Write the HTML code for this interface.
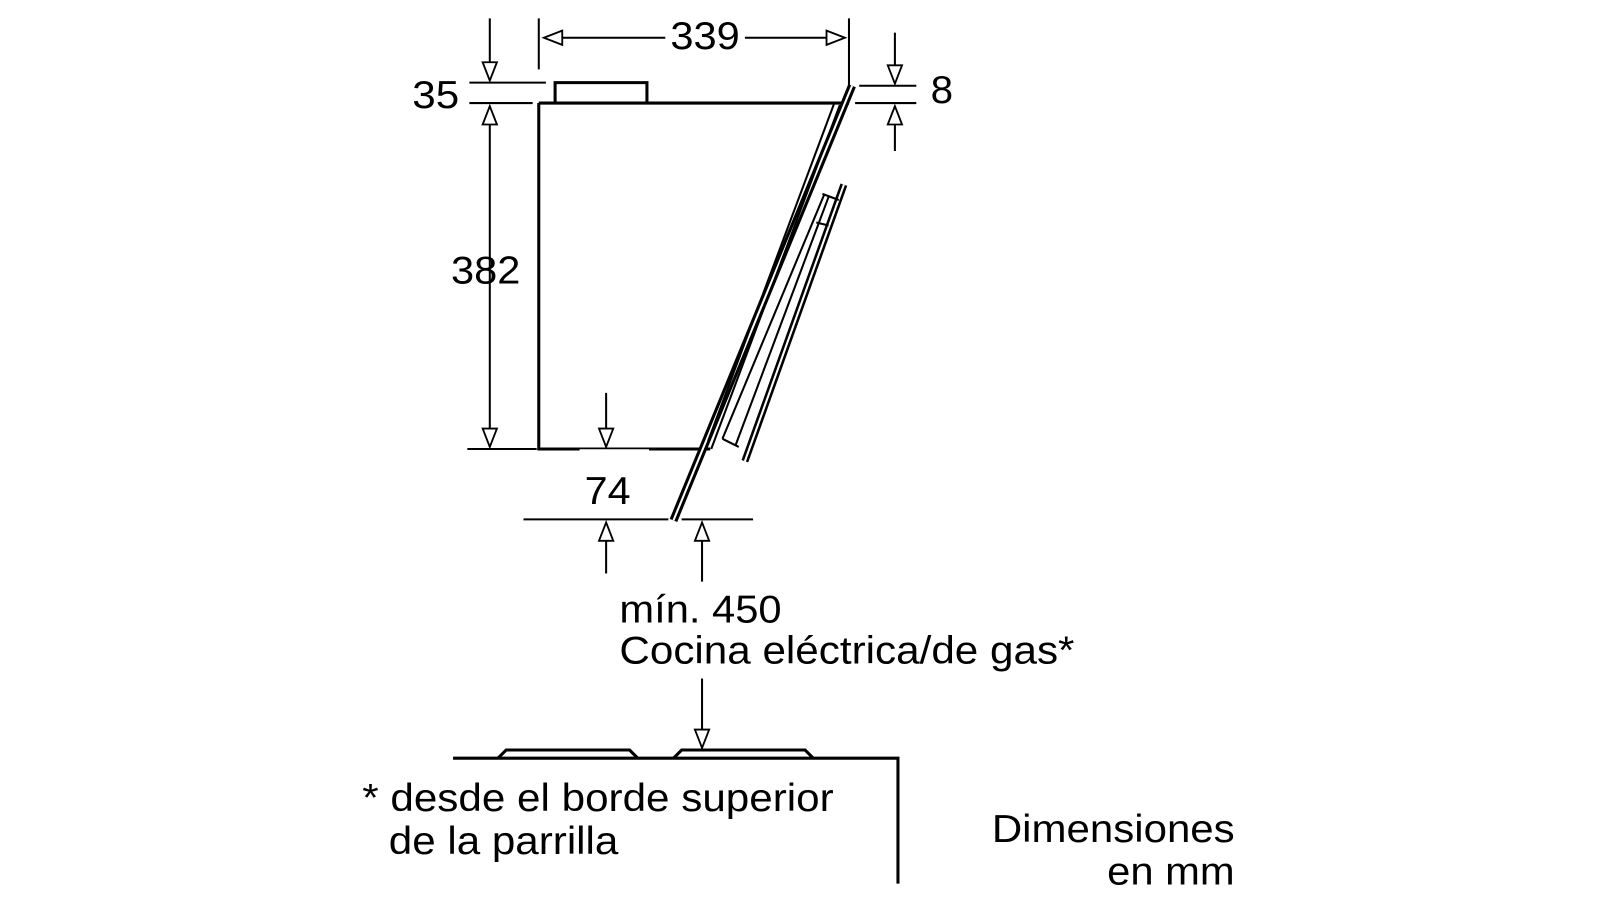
<!DOCTYPE html>
<html><head><meta charset="utf-8"><style>html,body{margin:0;padding:0;background:#fff;}svg{display:block}</style></head>
<body>
<svg width="1600" height="900" viewBox="0 0 1568 882" preserveAspectRatio="none" xmlns="http://www.w3.org/2000/svg" font-family="'Liberation Sans', sans-serif" fill="#000">
<g stroke="#000" stroke-width="2" fill="none">
<path d="M528 101 L528 440 L696 440" stroke-width="3"/>
<path d="M528 101 L832 101" stroke-width="3"/>
<path d="M544 101 L544 81 L634 81 L634 101" stroke-width="3"/>
<line x1="568" y1="441" x2="636" y2="441" stroke="#fff" stroke-width="1.5"/>
<path d="M835 84 L660 510" stroke-width="8"/>
<path d="M835 84 L660 510" stroke="#fff" stroke-width="2"/>
<path d="M823 103 L697 440"/>
<path d="M818 100 L694 432"/>
<path d="M827 181 L730 452" stroke-width="7"/>
<path d="M827 181 L730 452" stroke="#fff" stroke-width="2"/>
<path d="M812 193 L721 436"/>
<path d="M808 190 L708 430"/>
<path d="M806 190 L822 196 M800 218 L812 221 M708 430 L724 438"/>
<line x1="528" y1="18" x2="528" y2="68"/>
<line x1="832" y1="18" x2="832" y2="84"/>
<line x1="545" y1="37" x2="652" y2="37"/>
<line x1="730" y1="37" x2="815" y2="37"/>
<line x1="460" y1="81" x2="535" y2="81"/>
<line x1="460" y1="101" x2="522" y2="101"/>
<line x1="480" y1="18" x2="480" y2="64"/>
<line x1="480" y1="118" x2="480" y2="438"/>
<line x1="458" y1="440" x2="526" y2="440"/>
<line x1="842" y1="84" x2="898" y2="84"/>
<line x1="838" y1="101" x2="898" y2="101"/>
<line x1="877" y1="32" x2="877" y2="66"/>
<line x1="877" y1="118" x2="877" y2="148"/>
<line x1="594" y1="385" x2="594" y2="424"/>
<line x1="513" y1="509" x2="655" y2="509"/>
<line x1="668" y1="509" x2="738" y2="509"/>
<line x1="594" y1="526" x2="594" y2="562"/>
<line x1="688" y1="526" x2="688" y2="570"/>
<line x1="688" y1="665" x2="688" y2="718"/>
<path d="M444 743 L880 743 L880 866" stroke-width="3"/>
<path d="M488 743 L496 735 L617 735 L625 743" stroke-width="3"/>
<path d="M660 743 L668 735 L789 735 L797 743" stroke-width="3"/>
</g>
<g fill="#fff" stroke="#000" stroke-width="1.8">
<path d="M533 37 L551 30 L551 44 Z"/>
<path d="M828 37 L810 30 L810 44 Z"/>
<path d="M480 79 L473 61 L487 61 Z"/>
<path d="M480 104 L473 122 L487 122 Z"/>
<path d="M480 438 L473 420 L487 420 Z"/>
<path d="M877 82 L870 64 L884 64 Z"/>
<path d="M877 104 L870 122 L884 122 Z"/>
<path d="M594 438 L587 420 L601 420 Z"/>
<path d="M594 512 L587 530 L601 530 Z"/>
<path d="M688 512 L681 530 L695 530 Z"/>
<path d="M688 733 L681 715 L695 715 Z"/>
</g>
<g font-size="38">
<text x="657" y="48" textLength="68" lengthAdjust="spacingAndGlyphs">339</text>
<text x="404" y="106" textLength="46" lengthAdjust="spacingAndGlyphs">35</text>
<text x="442" y="278" textLength="68" lengthAdjust="spacingAndGlyphs">382</text>
<text x="573" y="494" textLength="45" lengthAdjust="spacingAndGlyphs">74</text>
<text x="912" y="101" textLength="22" lengthAdjust="spacingAndGlyphs">8</text>
<text x="607" y="610" textLength="159" lengthAdjust="spacingAndGlyphs">mín. 450</text>
<text x="607" y="650" textLength="446" lengthAdjust="spacingAndGlyphs">Cocina eléctrica/de gas*</text>
<text x="355" y="795" textLength="462" lengthAdjust="spacingAndGlyphs">* desde el borde superior</text>
<text x="381" y="837" textLength="225" lengthAdjust="spacingAndGlyphs">de la parrilla</text>
<text x="972" y="825" textLength="238" lengthAdjust="spacingAndGlyphs">Dimensiones</text>
<text x="1085" y="867" textLength="125" lengthAdjust="spacingAndGlyphs">en mm</text>
</g>
</svg>
</body></html>
